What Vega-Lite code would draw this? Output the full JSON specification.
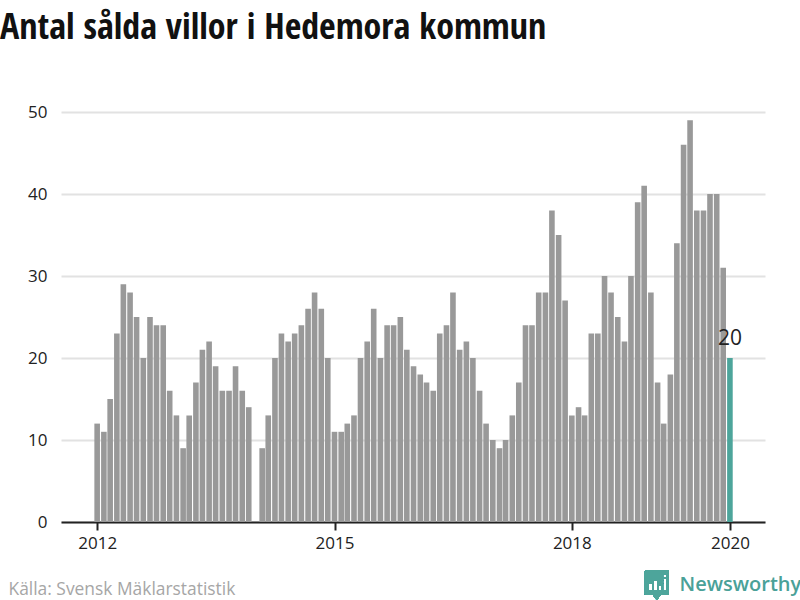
{
  "$schema": "https://vega.github.io/schema/vega-lite/v5.json",
  "title": {
    "text": "Antal sålda villor i Hedemora kommun",
    "font": "Open Sans Condensed, Roboto Condensed, DejaVu Sans Condensed, Liberation Sans",
    "fontSize": 36,
    "fontWeight": "bold",
    "color": "#111111",
    "anchor": "start",
    "frame": "group",
    "dx": -61,
    "offset": 28,
    "baseline": "alphabetic"
  },
  "autosize": "none",
  "padding": {"left": 61, "top": 112, "right": 35, "bottom": 78},
  "width": 704,
  "height": 410,
  "background": "white",
  "data": {
    "values": [
      {"date": "2012-01-01", "value": 12}, {"date": "2012-02-01", "value": 11}, {"date": "2012-03-01", "value": 15},
      {"date": "2012-04-01", "value": 23}, {"date": "2012-05-01", "value": 29}, {"date": "2012-06-01", "value": 28},
      {"date": "2012-07-01", "value": 25}, {"date": "2012-08-01", "value": 20}, {"date": "2012-09-01", "value": 25},
      {"date": "2012-10-01", "value": 24}, {"date": "2012-11-01", "value": 24}, {"date": "2012-12-01", "value": 16},
      {"date": "2013-01-01", "value": 13}, {"date": "2013-02-01", "value": 9}, {"date": "2013-03-01", "value": 13},
      {"date": "2013-04-01", "value": 17}, {"date": "2013-05-01", "value": 21}, {"date": "2013-06-01", "value": 22},
      {"date": "2013-07-01", "value": 19}, {"date": "2013-08-01", "value": 16}, {"date": "2013-09-01", "value": 16},
      {"date": "2013-10-01", "value": 19}, {"date": "2013-11-01", "value": 16}, {"date": "2013-12-01", "value": 14},
      {"date": "2014-02-01", "value": 9}, {"date": "2014-03-01", "value": 13},
      {"date": "2014-04-01", "value": 20}, {"date": "2014-05-01", "value": 23}, {"date": "2014-06-01", "value": 22},
      {"date": "2014-07-01", "value": 23}, {"date": "2014-08-01", "value": 24}, {"date": "2014-09-01", "value": 26},
      {"date": "2014-10-01", "value": 28}, {"date": "2014-11-01", "value": 26}, {"date": "2014-12-01", "value": 20},
      {"date": "2015-01-01", "value": 11}, {"date": "2015-02-01", "value": 11}, {"date": "2015-03-01", "value": 12},
      {"date": "2015-04-01", "value": 13}, {"date": "2015-05-01", "value": 20}, {"date": "2015-06-01", "value": 22},
      {"date": "2015-07-01", "value": 26}, {"date": "2015-08-01", "value": 20}, {"date": "2015-09-01", "value": 24},
      {"date": "2015-10-01", "value": 24}, {"date": "2015-11-01", "value": 25}, {"date": "2015-12-01", "value": 21},
      {"date": "2016-01-01", "value": 19}, {"date": "2016-02-01", "value": 18}, {"date": "2016-03-01", "value": 17},
      {"date": "2016-04-01", "value": 16}, {"date": "2016-05-01", "value": 23}, {"date": "2016-06-01", "value": 24},
      {"date": "2016-07-01", "value": 28}, {"date": "2016-08-01", "value": 21}, {"date": "2016-09-01", "value": 22},
      {"date": "2016-10-01", "value": 20}, {"date": "2016-11-01", "value": 16}, {"date": "2016-12-01", "value": 12},
      {"date": "2017-01-01", "value": 10}, {"date": "2017-02-01", "value": 9}, {"date": "2017-03-01", "value": 10},
      {"date": "2017-04-01", "value": 13}, {"date": "2017-05-01", "value": 17}, {"date": "2017-06-01", "value": 24},
      {"date": "2017-07-01", "value": 24}, {"date": "2017-08-01", "value": 28}, {"date": "2017-09-01", "value": 28},
      {"date": "2017-10-01", "value": 38}, {"date": "2017-11-01", "value": 35}, {"date": "2017-12-01", "value": 27},
      {"date": "2018-01-01", "value": 13}, {"date": "2018-02-01", "value": 14}, {"date": "2018-03-01", "value": 13},
      {"date": "2018-04-01", "value": 23}, {"date": "2018-05-01", "value": 23}, {"date": "2018-06-01", "value": 30},
      {"date": "2018-07-01", "value": 28}, {"date": "2018-08-01", "value": 25}, {"date": "2018-09-01", "value": 22},
      {"date": "2018-10-01", "value": 30}, {"date": "2018-11-01", "value": 39}, {"date": "2018-12-01", "value": 41},
      {"date": "2019-01-01", "value": 28}, {"date": "2019-02-01", "value": 17}, {"date": "2019-03-01", "value": 12},
      {"date": "2019-04-01", "value": 18}, {"date": "2019-05-01", "value": 34}, {"date": "2019-06-01", "value": 46},
      {"date": "2019-07-01", "value": 49}, {"date": "2019-08-01", "value": 38}, {"date": "2019-09-01", "value": 38},
      {"date": "2019-10-01", "value": 40}, {"date": "2019-11-01", "value": 40}, {"date": "2019-12-01", "value": 31},
      {"date": "2020-01-01", "value": 20}
    ]
  },
  "encoding": {
    "x": {
      "field": "date",
      "type": "temporal",
      "scale": {
        "type": "utc",
        "nice": false,
        "padding": 0,
        "domain": [
          {"year": 2011, "month": 7, "date": 18, "utc": true},
          {"year": 2020, "month": 6, "date": 11, "utc": true}
        ]
      },
      "axis": {
        "title": "Källa: Svensk Mäklarstatistik",
        "titleFont": "Open Sans",
        "titleFontSize": 17.4,
        "titleFontWeight": "normal",
        "titleColor": "#a6a6a6",
        "titleAnchor": "start",
        "titleAlign": "left",
        "titleBaseline": "alphabetic",
        "titleX": -53,
        "titleY": 72,
        "values": [
          {"year": 2012, "month": 1, "date": 1, "utc": true},
          {"year": 2015, "month": 1, "date": 1, "utc": true},
          {"year": 2018, "month": 1, "date": 1, "utc": true},
          {"year": 2020, "month": 1, "date": 1, "utc": true}
        ],
        "format": "%Y",
        "grid": false,
        "domainColor": "#222222",
        "domainWidth": 2,
        "tickColor": "#222222",
        "tickWidth": 2,
        "tickSize": 8,
        "labelFont": "Open Sans",
        "labelFontSize": 17,
        "labelColor": "#222222",
        "labelPadding": 5,
        "labelFlush": false
      }
    },
    "y": {
      "field": "value",
      "type": "quantitative",
      "scale": {"domain": [0, 50], "nice": false},
      "axis": {
        "title": "Newsworthy",
        "titleFont": "Open Sans",
        "titleFontSize": 20,
        "titleFontWeight": 600,
        "titleColor": "#4aa198",
        "titleAngle": 0,
        "titleAlign": "left",
        "titleBaseline": "alphabetic",
        "titleX": 618,
        "titleY": 478,
        "values": [0, 10, 20, 30, 40, 50],
        "grid": true,
        "gridColor": "#e2e2e2",
        "gridWidth": 2,
        "domain": false,
        "ticks": false,
        "labelFont": "Open Sans",
        "labelFontSize": 17,
        "labelColor": "#222222",
        "labelPadding": 14
      }
    }
  },
  "layer": [
    {
      "mark": {"type": "bar", "width": 5.6},
      "encoding": {
        "color": {
          "condition": {"test": "utcyear(datum.date) == 2020", "value": "#4da59b"},
          "value": "#999999"
        }
      }
    },
    {
      "transform": [{"filter": "utcyear(datum.date) == 2020"}],
      "mark": {
        "type": "text",
        "font": "Open Sans",
        "fontSize": 21,
        "color": "#222222",
        "baseline": "alphabetic",
        "dy": -13
      },
      "encoding": {"text": {"field": "value", "type": "quantitative"}}
    },
    {
      "mark": {
        "type": "point",
        "filled": true,
        "opacity": 1,
        "size": 900,
        "color": "#4da59b",
        "clip": false,
        "shape": "M-0.7 -1 L0.7 -1 Q0.8 -1 0.8 -0.9 L0.8 0.55 Q0.8 0.65 0.7 0.65 L0.25 0.65 L0 1 L-0.25 0.65 L-0.7 0.65 Q-0.8 0.65 -0.8 0.55 L-0.8 -0.9 Q-0.8 -1 -0.7 -1 Z M-0.55 0.33 L-0.3 0.33 L-0.3 -0.1 L-0.55 -0.1 Z M-0.2 0.33 L0.05 0.33 L0.05 -0.3 L-0.2 -0.3 Z M0.13 0.33 L0.3 0.33 L0.3 0.02 L0.13 0.02 Z M0.42 0.33 L0.62 0.33 L0.62 -0.45 L0.42 -0.45 Z M0.42 -0.55 L0.62 -0.55 L0.62 -0.72 L0.42 -0.72 Z"
      },
      "encoding": {
        "x": {"datum": {"year": 2019, "month": 1, "date": 28, "utc": true}, "type": "temporal"},
        "y": {"datum": -7.7, "type": "quantitative"}
      }
    }
  ],
  "config": {"view": {"stroke": null}}
}
